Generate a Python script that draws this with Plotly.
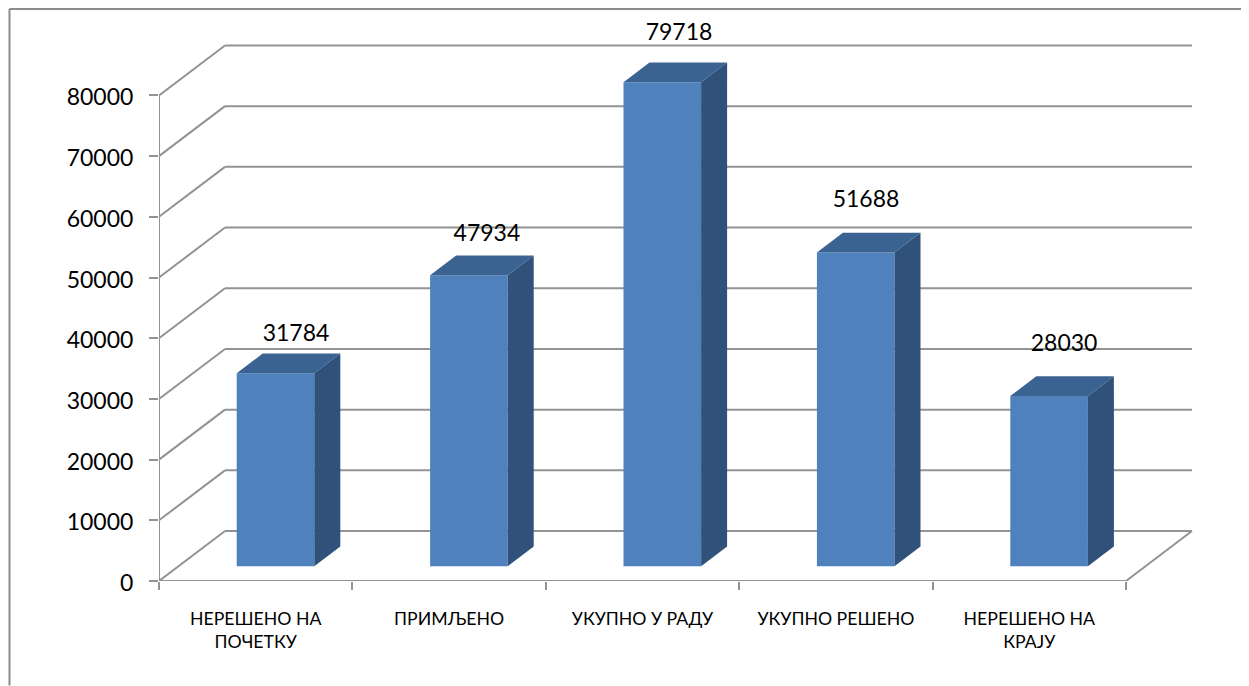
import plotly.graph_objects as go

categories = ['НЕРЕШЕНО НА<br>ПОЧЕТКУ', 'ПРИМЉЕНО', 'УКУПНО У РАДУ', 'УКУПНО РЕШЕНО', 'НЕРЕШЕНО НА<br>КРАЈУ']
values = [31784, 47934, 79718, 51688, 28030]
y_ticks = [0, 10000, 20000, 30000, 40000, 50000, 60000, 70000, 80000]

FONT = 'Lato'
GRID = '#939393'
FRONT = '#4f81bd'
TOP = '#3a6391'
SIDE = '#30527a'

# pixel layout of the oblique projection, the page body adds 8px on the top and left
PAGE = 8
W, H = 1249 - PAGE, 686 - PAGE
LEFT, RIGHT, TOP_PX, BOTTOM = 159 - PAGE, 1200 - PAGE, 6, 581.5 - PAGE
PX_X = 193.4           # one category
PX_Y = 486 / 80000     # pixels per unit


def ux(px):
    return px / PX_X


def uy(px):
    return px / PX_Y


wall_dx, wall_dy = ux(66), uy(50)
bar_x0, bar_w = ux(77.7), ux(77.6)
bar_base = uy(14.8)
bar_dx, bar_dy = ux(26), uy(19.8)

# where the value labels sit relative to each bar, in pixels
label_dx = [20.5, 18, 16.7, 10.3, 15]
label_dy = [38.1, 40.5, 48.4, 51.7, 50.4]

fig = go.Figure()

# floor and back wall
n = len(categories)
grid_line = dict(color=GRID, width=2)
for t in y_ticks:
    fig.add_shape(type='line', xref='x', yref='y', layer='below', x0=0, y0=t, x1=wall_dx, y1=t + wall_dy, line=grid_line)
    fig.add_shape(type='line', xref='x', yref='y', layer='below', x0=wall_dx, y0=t + wall_dy, x1=n + wall_dx, y1=t + wall_dy, line=grid_line)
fig.add_shape(type='line', xref='x', yref='y', layer='below', x0=0, y0=0, x1=n, y1=0, line=grid_line)
fig.add_shape(type='line', xref='x', yref='y', layer='below', x0=n, y0=0, x1=n + wall_dx, y1=wall_dy, line=grid_line)
fig.add_shape(type='line', xref='x', yref='y', layer='below', x0=0, y0=0, x1=0, y1=y_ticks[-1], line=grid_line)

# front faces
xs = [i + bar_x0 + bar_w / 2 for i in range(n)]
fig.add_trace(go.Bar(x=xs, y=values, base=bar_base, width=bar_w, marker=dict(color=FRONT, line=dict(width=0))))

# top and side faces
for i, v in enumerate(values):
    x0 = i + bar_x0
    x1 = x0 + bar_w
    y1 = bar_base + v
    fig.add_trace(go.Scatter(x=[x0, x1, x1 + bar_dx, x0 + bar_dx, x0], y=[y1, y1, y1 + bar_dy, y1 + bar_dy, y1],
                             mode='lines', fill='toself', fillcolor=TOP, line=dict(width=0, color=TOP)))
    fig.add_trace(go.Scatter(x=[x1, x1 + bar_dx, x1 + bar_dx, x1, x1],
                             y=[bar_base, bar_base + bar_dy, y1 + bar_dy, y1, bar_base],
                             mode='lines', fill='toself', fillcolor=SIDE, line=dict(width=0, color=SIDE)))

# value labels
fig.add_trace(go.Scatter(x=[xs[i] + ux(label_dx[i]) for i in range(n)],
                         y=[bar_base + values[i] + uy(label_dy[i]) for i in range(n)],
                         text=[str(v) for v in values], mode='text', textposition='middle center',
                         textfont=dict(family=FONT, size=23, color='black'), cliponaxis=False))

# chart frame, only left and top edges are in the picture
frame_x = 9.5 - PAGE
frame_y = 9 - PAGE
fx = (frame_x - LEFT) / (RIGHT - LEFT)
fy = (BOTTOM - frame_y) / (BOTTOM - TOP_PX)
fy0 = (BOTTOM - H) / (BOTTOM - TOP_PX)
fx1 = (W - LEFT) / (RIGHT - LEFT)
fig.add_shape(type='line', xref='paper', yref='paper', x0=fx, y0=fy0, x1=fx, y1=fy, line=dict(color='#8c8c8c', width=2))
fig.add_shape(type='line', xref='paper', yref='paper', x0=fx, y0=fy, x1=fx1, y1=fy, line=dict(color='#8c8c8c', width=2))

fig.update_xaxes(range=[0, ux(RIGHT - LEFT)], showgrid=False, zeroline=False, showline=False,
                 tickmode='array', tickvals=[i + 0.5 for i in range(n)], ticktext=categories,
                 ticks='', ticklabelstandoff=25, tickfont=dict(family=FONT, size=17.7, color='black'),
                 minor=dict(tickmode='array', tickvals=list(range(n + 1)), ticks='outside', ticklen=8,
                            tickcolor=GRID, tickwidth=2, showgrid=False))
fig.update_yaxes(range=[0, uy(BOTTOM - TOP_PX)], showgrid=False, zeroline=False, showline=False,
                 tickmode='array', tickvals=y_ticks, tickformat='d', ticks='outside', ticklen=9, tickcolor=GRID, tickwidth=2,
                 ticklabelstandoff=11, ticklabelshift=2, tickfont=dict(family=FONT, size=23, color='black'))
fig.update_layout(width=W, height=H, showlegend=False, paper_bgcolor='white', plot_bgcolor='white',
                  margin=dict(l=LEFT, r=W - RIGHT, t=TOP_PX, b=H - BOTTOM, pad=0))

fig.write_html("out.html")
